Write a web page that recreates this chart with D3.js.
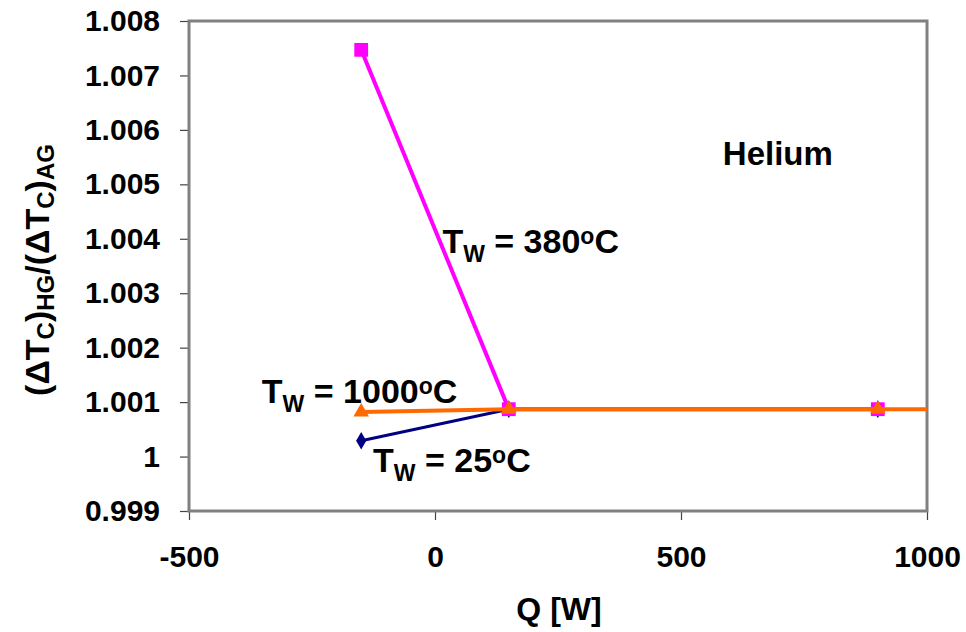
<!DOCTYPE html>
<html>
<head>
<meta charset="utf-8">
<script src="https://cdn.jsdelivr.net/npm/d3@7"></script>
<style>
  body { margin: 0; background: #fff; }
  svg { display: block; }
  text { font-family: "Liberation Sans", Arial, sans-serif; font-weight: bold; fill: #000; }
</style>
</head>
<body>
<div id="chart"></div>
<script>
// series (Q in W, ratio)
const qValues = [-150, 150, 900];
const tw25 = [1.00029, 1.00087, 1.00087];
const tw380 = [1.00747, 1.00087, 1.00087];
const tw1000q = [-150, 150, 900, 1200];
const tw1000 = [1.00082, 1.00087, 1.00087, 1.00087];

const xTicks = [-500, 0, 500, 1000];
const yTicks = [0.999, 1, 1.001, 1.002, 1.003, 1.004, 1.005, 1.006, 1.007, 1.008];

// annotation anchors in data units
const notes = [
    { temp: "380", q: 15, r: 1.00374 },
    { temp: "1000", q: -352, r: 1.00098 },
    { temp: "25", q: -126, r: 0.99972 }
];

const width = 966, height = 632;
const plot = { left: 189, right: 927, top: 21, bottom: 511 };

const svg = d3.select("#chart").append("svg")
    .attr("width", width)
    .attr("height", height);

const x = d3.scaleLinear().domain([-500, 1000]).range([plot.left, plot.right]);
const y = d3.scaleLinear().domain([0.999, 1.008]).range([plot.bottom, plot.top]);

svg.append("defs").append("clipPath").attr("id", "clip")
    .append("rect")
    .attr("x", plot.left).attr("y", plot.top)
    .attr("width", plot.right - plot.left).attr("height", plot.bottom - plot.top);

// axes (ticks only, the frame is drawn separately)
const yAxis = svg.append("g")
    .attr("transform", `translate(${plot.left},0)`)
    .call(d3.axisLeft(y).tickValues(yTicks).tickSize(9).tickPadding(20)
        .tickFormat(d => d === 1 ? "1" : d3.format(".3f")(d)));
yAxis.select(".domain").remove();
yAxis.selectAll("line").attr("stroke", "#444").attr("stroke-width", 1.2);
yAxis.selectAll("text").attr("font-size", "30px").attr("fill", "#000");

const xAxis = svg.append("g")
    .attr("transform", `translate(0,${plot.bottom})`)
    .call(d3.axisBottom(x).tickValues(xTicks).tickSize(9).tickPadding(26).tickFormat(d => String(d)));
xAxis.select(".domain").remove();
xAxis.selectAll("line").attr("stroke", "#444").attr("stroke-width", 1.2);
xAxis.selectAll("text").attr("font-size", "30px").attr("fill", "#000");

// frame
svg.append("rect")
    .attr("x", plot.left).attr("y", plot.top)
    .attr("width", plot.right - plot.left).attr("height", plot.bottom - plot.top)
    .attr("fill", "none").attr("stroke", "#808080").attr("stroke-width", 3);

const line = d3.line().x(d => x(d[0])).y(d => y(d[1]));
const series = [
    { pts: d3.zip(qValues, tw25), color: "#000080", width: 3, symbol: d3.symbolDiamond, size: 90 },
    { pts: d3.zip(qValues, tw380), color: "#ff00ff", width: 4, symbol: d3.symbolSquare, size: 190 },
    { pts: d3.zip(tw1000q, tw1000), color: "#ff6a00", width: 4, symbol: d3.symbolTriangle, size: 105 }
];

const marks = svg.append("g").attr("clip-path", "url(#clip)");
series.forEach(s => {
    marks.append("path")
        .attr("d", line(s.pts))
        .attr("fill", "none")
        .attr("stroke", s.color)
        .attr("stroke-width", s.width);
    marks.selectAll(null)
        .data(s.pts)
        .enter()
        .append("path")
        .attr("transform", d => `translate(${x(d[0])},${y(d[1])})`)
        .attr("d", d3.symbol().type(s.symbol).size(s.size))
        .attr("fill", s.color);
});

// annotations
notes.forEach(n => {
    const t = svg.append("text")
        .attr("x", x(n.q))
        .attr("y", y(n.r))
        .attr("font-size", "34px");
    t.append("tspan").text("T");
    t.append("tspan").attr("font-size", "23px").attr("dy", 9).text("W");
    t.append("tspan").attr("dy", -9).text(" = " + n.temp);
    t.append("tspan").attr("font-size", "23px").attr("dy", -9).text("o");
    t.append("tspan").attr("dy", 9).text("C");
});

svg.append("text")
    .attr("x", x(585))
    .attr("y", y(1.00536))
    .attr("font-size", "33px")
    .text("Helium");

// axis titles
svg.append("text")
    .attr("x", (plot.left + plot.right) / 2 + 1)
    .attr("y", 620)
    .attr("text-anchor", "middle")
    .attr("font-size", "32px")
    .text("Q [W]");

const yTitle = svg.append("text")
    .attr("transform", "translate(49,270) rotate(-90)")
    .attr("text-anchor", "middle")
    .attr("font-size", "34px");
yTitle.append("tspan").text("(\u0394T");
yTitle.append("tspan").attr("font-size", "24px").attr("dy", 5).text("C");
yTitle.append("tspan").attr("dy", -5).text(")");
yTitle.append("tspan").attr("font-size", "24px").attr("dy", 5).text("HG");
yTitle.append("tspan").attr("dy", -5).text("/(\u0394T");
yTitle.append("tspan").attr("font-size", "24px").attr("dy", 5).text("C");
yTitle.append("tspan").attr("dy", -5).text(")");
yTitle.append("tspan").attr("font-size", "24px").attr("dy", 5).text("AG");
</script>
</body>
</html>
